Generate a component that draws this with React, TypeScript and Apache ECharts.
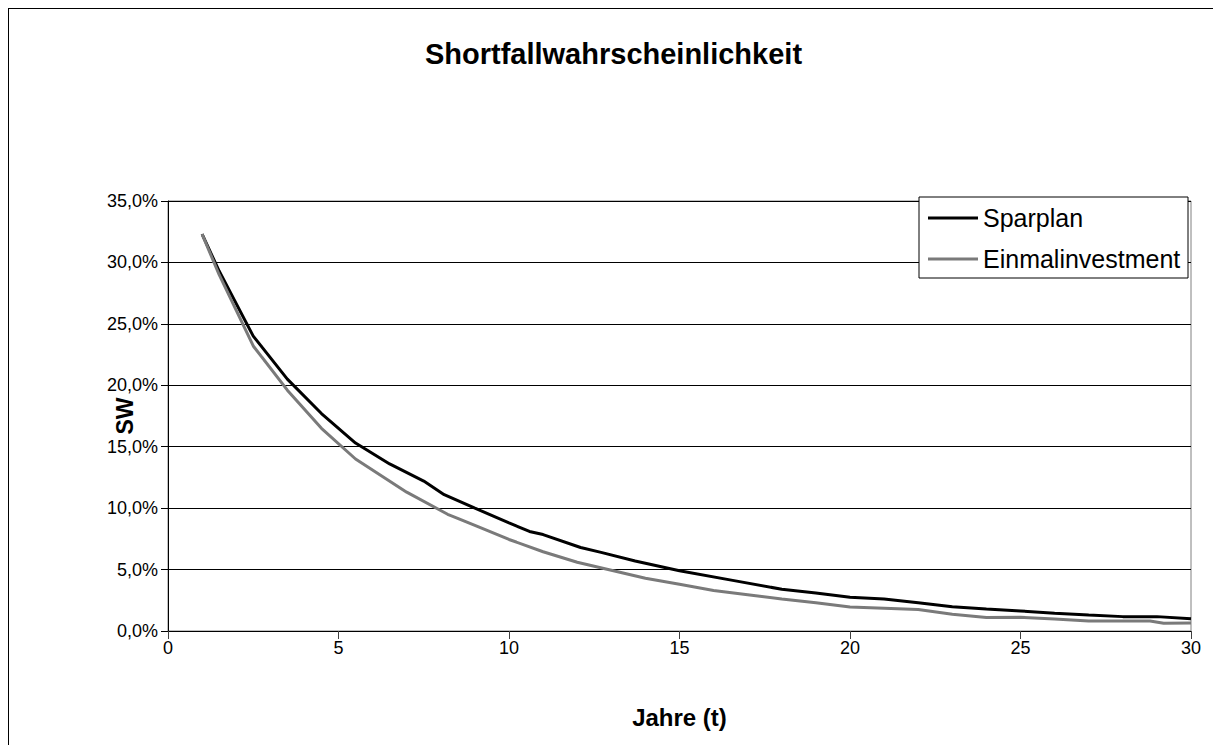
import React, { useEffect, useRef } from "react";
import * as echarts from "echarts";

const titleText = "Shortfallwahrscheinlichkeit";
const xAxisName = "Jahre (t)";
const yAxisName = "SW";
const seriesNames = ["Sparplan", "Einmalinvestment"];

const sparplanYears = [1, 1.5, 2.5, 3.5, 4.5, 5.5, 6.5, 7.5, 8.1, 9, 10, 10.6, 11, 12.1, 12.7, 13.7, 15, 16.6, 18, 19, 20, 21, 22, 23, 24, 25, 26, 27, 28, 29, 30];
const sparplanValues = [32.3, 29.3, 24.0, 20.5, 17.7, 15.3, 13.6, 12.2, 11.1, 10.0, 8.8, 8.1, 7.85, 6.8, 6.4, 5.7, 4.9, 4.1, 3.4, 3.1, 2.75, 2.6, 2.3, 1.98, 1.8, 1.63, 1.45, 1.3, 1.17, 1.17, 1.0];

const einmalYears = [1, 1.5, 2.5, 3.5, 4.5, 5.5, 7, 8.2, 9, 10, 11, 12, 13, 14, 15, 16, 17, 18, 19, 20, 21, 22, 23, 24, 25, 26, 27, 28, 28.8, 29.2, 30];
const einmalValues = [32.3, 29.0, 23.2, 19.6, 16.5, 14.0, 11.3, 9.5, 8.6, 7.45, 6.45, 5.6, 4.95, 4.3, 3.8, 3.3, 2.95, 2.6, 2.3, 1.95, 1.85, 1.75, 1.36, 1.1, 1.12, 0.98, 0.82, 0.82, 0.81, 0.63, 0.66];

const xMin = 0;
const xMax = 30;
const xInterval = 5;
const yMin = 0;
const yMax = 35;
const yInterval = 5;

const FONT = "'Liberation Sans', Arial, sans-serif";

function pairs(xs: number[], ys: number[]) {
  return xs.map((x, i) => [x, ys[i]]);
}

export default function App() {
  const ref = useRef<HTMLDivElement>(null);

  useEffect(() => {
    if (!ref.current) return;
    const chart = echarts.init(ref.current, undefined, { renderer: "svg" });
    chart.setOption({
      animation: false,
      backgroundColor: "#ffffff",
      title: {
        text: titleText,
        left: "center",
        top: 25,
        textStyle: { fontFamily: FONT, fontSize: 29, fontWeight: "bold", color: "#000" },
      },
      legend: {
        orient: "vertical",
        left: 910,
        top: 188,
        padding: [7, 6, 5, 9],
        itemGap: 13,
        itemWidth: 50,
        itemHeight: 3,
        itemStyle: { borderWidth: 0 },
        backgroundColor: "#ffffff",
        borderColor: "#000000",
        borderWidth: 1,
        borderRadius: 0,
        data: [
          { name: seriesNames[0], icon: "rect", itemStyle: { color: "#000000" } },
          { name: seriesNames[1], icon: "rect", itemStyle: { color: "#7a7a7a" } },
        ],
        textStyle: {
          fontFamily: FONT,
          fontSize: 25,
          color: "#000",
          lineHeight: 28,
          width: 199,
          padding: [0, 0, 0, 0],
        },
      },
      grid: {
        left: 159,
        top: 192,
        width: 1023,
        height: 430,
        show: true,
        borderColor: "#808080",
        borderWidth: 1,
        backgroundColor: "transparent",
      },
      xAxis: {
        type: "value",
        min: xMin,
        max: xMax,
        interval: xInterval,
        name: xAxisName,
        nameLocation: "middle",
        nameGap: 74,
        nameMoveOverlap: false,
        nameTextStyle: { fontFamily: FONT, fontSize: 24, fontWeight: "bold", color: "#000" },
        axisLine: { show: true, onZero: false, lineStyle: { color: "#000", width: 1 } },
        axisTick: { show: true, inside: false, length: 8, lineStyle: { color: "#404040" } },
        axisLabel: { fontFamily: FONT, fontSize: 18, color: "#000", margin: 8 },
        splitLine: { show: false },
      },
      yAxis: {
        type: "value",
        min: yMin,
        max: yMax,
        interval: yInterval,
        name: yAxisName,
        nameLocation: "middle",
        nameRotate: 90,
        nameGap: 32,
        nameMoveOverlap: false,
        nameTextStyle: { fontFamily: FONT, fontSize: 23, fontWeight: "bold", color: "#000" },
        axisLine: { show: true, lineStyle: { color: "#000", width: 1 } },
        axisTick: { show: true, inside: false, length: 7, lineStyle: { color: "#000" } },
        axisLabel: {
          fontFamily: FONT,
          fontSize: 18,
          color: "#000",
          margin: 10,
          formatter: (v: number) => v.toFixed(1).replace(".", ",") + "%",
        },
        splitLine: { show: true, lineStyle: { color: "#000", width: 1 } },
      },
      series: [
        {
          name: seriesNames[0],
          type: "line",
          data: pairs(sparplanYears, sparplanValues),
          showSymbol: false,
          symbol: "none",
          lineStyle: { color: "#000000", width: 3 },
          itemStyle: { color: "#000000" },
        },
        {
          name: seriesNames[1],
          type: "line",
          data: pairs(einmalYears, einmalValues),
          showSymbol: false,
          symbol: "none",
          lineStyle: { color: "#7a7a7a", width: 3 },
          itemStyle: { color: "#7a7a7a" },
        },
      ],
    });
    return () => chart.dispose();
  }, []);

  return (
    <div
      style={{
        position: "fixed",
        left: 8,
        top: 8,
        width: 1210,
        height: 745,
        borderLeft: "1px solid #000",
        borderTop: "1px solid #000",
        boxSizing: "border-box",
        background: "#fff",
      }}
    >
      <div ref={ref} style={{ width: 1209, height: 744 }} />
    </div>
  );
}
